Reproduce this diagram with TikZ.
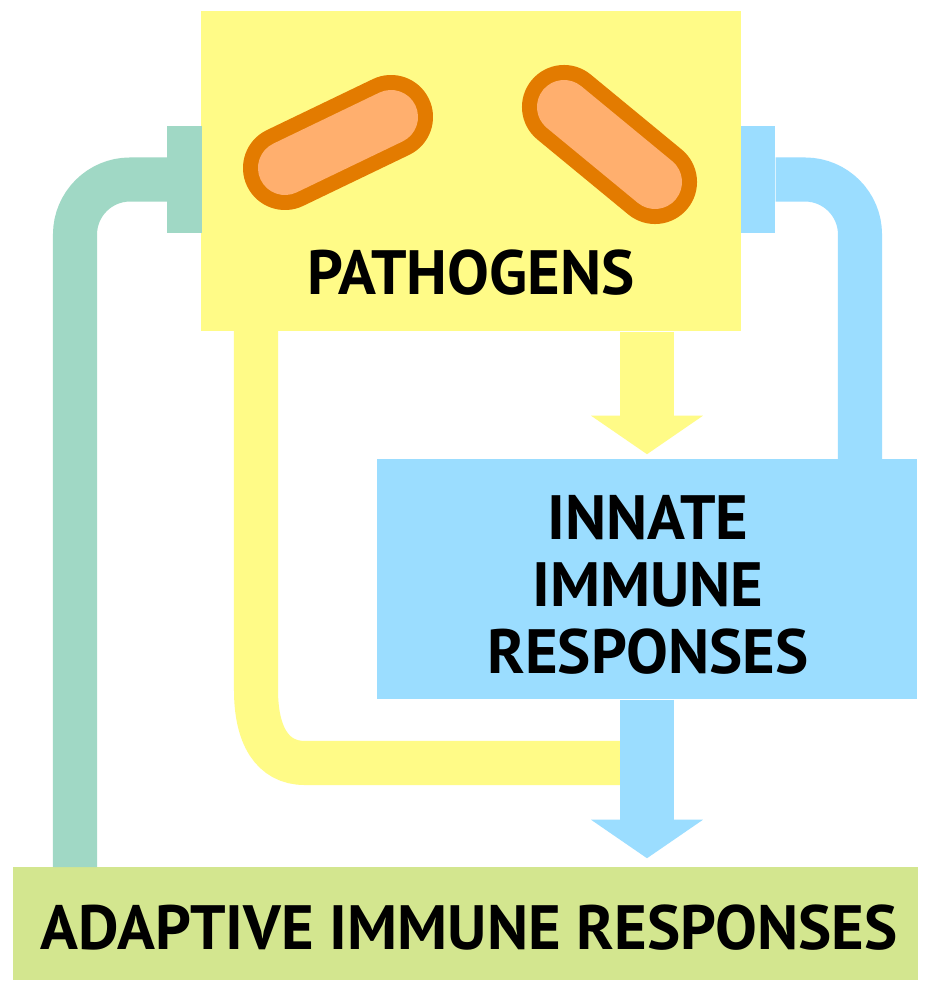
\documentclass[tikz,border=0pt]{standalone}
\usepackage{fontspec}
\setmainfont{PT Sans}
\usepackage{tikz}
\usetikzlibrary{arrows.meta,positioning,shapes}

\definecolor{pathyellow}{HTML}{FFFB87}
\definecolor{innateblue}{HTML}{9BDDFF}
\definecolor{adaptgreen}{HTML}{D3E68F}
\definecolor{backteal}{HTML}{A0D8C5}
\definecolor{cellorange}{HTML}{E37B00}
\definecolor{cellfill}{HTML}{FFAF6E}

\tikzset{
  box/.style={inner sep=0pt,minimum width=#1},
  lbl/.style={font=\bfseries\fontsize{17.8}{19}\selectfont,align=center,inner sep=0pt},
  feedback/.style={line width=.44cm,rounded corners=.55cm},
  bar/.style={inner sep=0pt,minimum width=.34cm,minimum height=1.07cm},
  flow/.style={line width=.54cm,-{Triangle[width=1.1cm,length=.385cm]}},
  cell/.style={draw=cellorange,line width=.15cm,double=cellfill,double distance=.54cm,line cap=round},
}

\begin{document}
\begin{tikzpicture}[x=.01cm,y=-.01cm]
\useasboundingbox[fill=white] (0,0) rectangle (927,1000);
\node[box=5.4cm,minimum height=3.2cm,fill=pathyellow] (pathogens) at (471,171) {};
\node[box=5.4cm,minimum height=2.4cm,fill=innateblue] (innate) at (647,579) {};
\node[box=9.05cm,minimum height=1.13cm,fill=adaptgreen] (adaptive) at (465.5,923.5) {};
\node[bar,fill=backteal] (tealbar) at (184.5,179.5) {};
\node[bar,fill=innateblue] (bluebar) at (758,179.5) {};
\coordinate (tealfoot) at (75,867);
\coordinate (bluefoot) at (860,459);
\coordinate (yellowtop) at (256,331);
\coordinate (yellowjoin) at (647,763);
% loops back to the pathogens
\draw[feedback,backteal] (tealfoot) |- (tealbar.west);
\draw[feedback,innateblue] (bluefoot) |- (bluebar.east);
\draw[line width=.44cm,pathyellow] (yellowtop) -- (256,690) .. controls (256,735) and (272,763) .. (305,763) -- (yellowjoin);
% main flow
\draw[flow,pathyellow,shorten >=.04cm] (pathogens.south -| innate.north) -- (innate.north);
\draw[flow,innateblue,shorten >=.08cm] (innate.south) -- (innate.south |- adaptive.north);
% the two bacteria
\coordinate (cellaa) at (285,168);
\coordinate (cellab) at (391,117);
\coordinate (cellba) at (564,107);
\coordinate (cellbb) at (655,182);
\draw[cell] (cellaa) -- (cellab);
\draw[cell] (cellba) -- (cellbb);
\node[lbl] (pathlabel) at (471,273) {PATHOGENS};
\node[lbl] (innatelabel) at (648,585) {INNATE\\IMMUNE\\RESPONSES};
\node[lbl] (adaptlabel) at (469,928) {ADAPTIVE IMMUNE RESPONSES};
\end{tikzpicture}
\end{document}
